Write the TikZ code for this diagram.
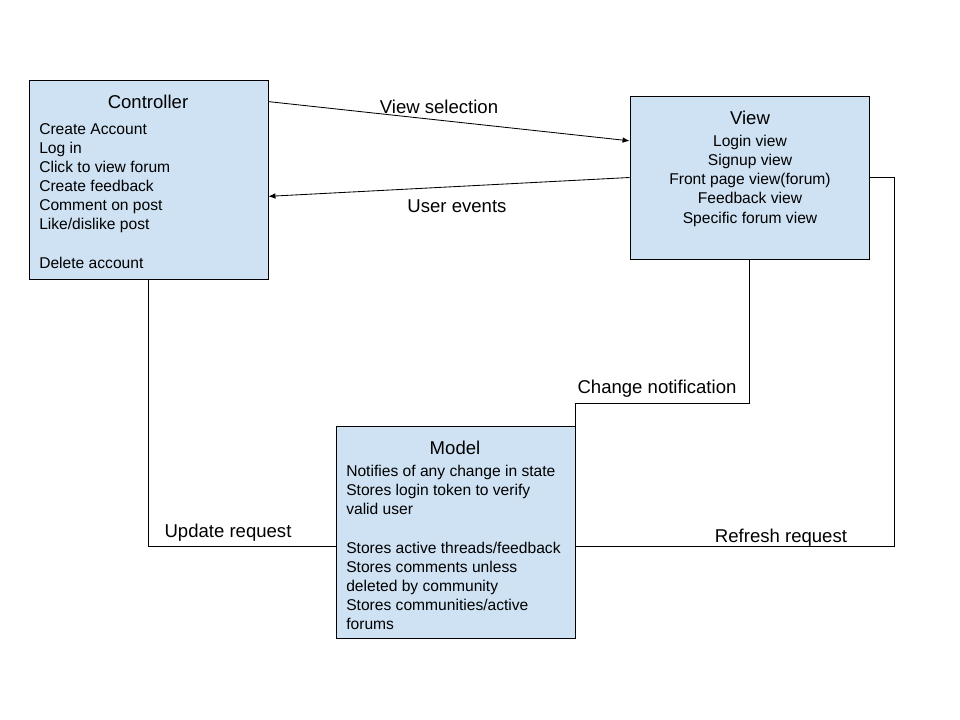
\documentclass[tikz,border=0pt]{standalone}
\usepackage{fontspec}
\setmainfont{Liberation Sans}
\usepackage{xcolor}
\usetikzlibrary{positioning, calc, arrows.meta}

\definecolor{boxblue}{HTML}{CFE2F3}

\tikzset{
    block/.style={rectangle, draw, fill=boxblue, line width=0.6pt, inner sep=0pt},
    title/.style={inner sep=0pt, font=\fontsize{13.2}{16}\selectfont},
    body/.style={inner sep=0pt, font=\fontsize{11.1}{13.6}\selectfont},
    lbl/.style={inner sep=0pt, font=\fontsize{13.2}{16}\selectfont},
    link/.style={line width=0.6pt},
    arr/.style={line width=0.6pt, -{Latex[length=5pt, width=4pt]}}
}

\begin{document}
\begin{tikzpicture}[x=0.025cm, y=-0.025cm]
                \useasboundingbox (0,0) rectangle (960,720);

                % Boxes
                \node[block, minimum width=239*0.025cm, minimum height=199*0.025cm] (Controller) at (148.5, 179.5) {};
                \node[block, minimum width=239*0.025cm, minimum height=163*0.025cm] (View) at (749.5, 177.5) {};
                \node[block, minimum width=239*0.025cm, minimum height=212*0.025cm] (Model) at (455.5, 532) {};

                % Box texts
                \node[title] (ControllerTitle) at (148, 101.5) {Controller};
                \node[body, anchor=north west, align=left] (ControllerText) at (39, 123) {Create Account\\ Log in\\ Click to view forum\\ Create feedback\\ Comment on post\\ Like/dislike post\\ \mbox{}\\ Delete account};

                \node[title] (ViewTitle) at (750, 117.5) {View};
                \node[body, anchor=north, align=center] (ViewText) at (750, 135) {Login view\\ Signup view\\ Front page view(forum)\\ Feedback view\\ Specific forum view};

                \node[title] (ModelTitle) at (455, 447.5) {Model};
                \node[body, anchor=north west, align=left] (ModelText) at (346, 465) {Notifies of any change in state\\ Stores login token to verify\\ valid user\\ \mbox{}\\ Stores active threads/feedback\\ Stores comments unless\\ deleted by community\\ Stores communities/active\\ forums};

                % Edges
                % Controller and View
                \draw[arr] (Controller.33.3) -- (View.163);
                \draw[arr] (View.west) -- (Controller.-8.3);

                % View to Model
                \draw[link] (View.south) -- ++(0,144) -| (Model.north east);
                \draw[link] (View.east) -- ++(25,0) |- (Model.-7.2);

                % Controller to Model
                \draw[link] (Controller.south) |- (Model.187.2);

                % Labels
                \node[lbl] (ViewSel) at (439, 107) {View selection};
                \node[lbl] (UserEv) at (457, 206) {User events};
                \node[lbl] (ChangeNote) at (657, 388.5) {Change notification};
                \node[lbl] (UpdateReq) at (228, 533) {Update request};
                \node[lbl] (RefreshReq) at (781, 537.5) {Refresh request};

\end{tikzpicture}
\end{document}
